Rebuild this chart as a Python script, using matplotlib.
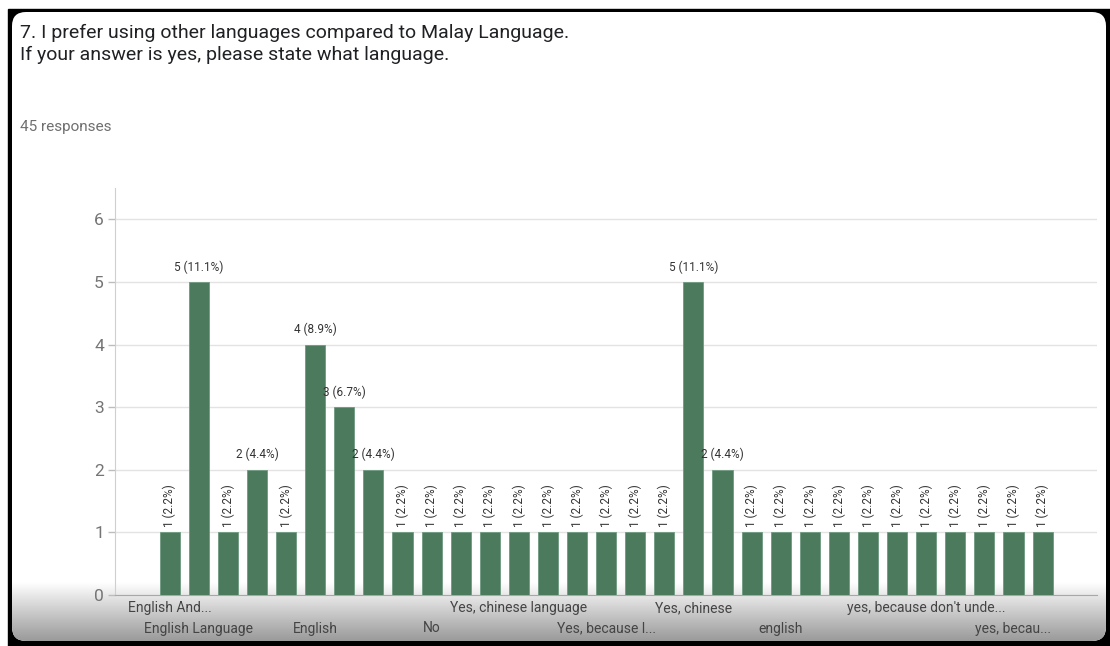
import matplotlib
matplotlib.use("Agg")
import matplotlib.pyplot as plt
import numpy as np
from matplotlib.patches import Rectangle, FancyBboxPatch

plt.rcParams['font.family'] = ['Roboto', 'DejaVu Sans']

# survey answers (only some category names are shown on the axis)
title_lines = ["7. I prefer using other languages compared to Malay Language.",
               "If your answer is yes, please state what language."]
responses = 45
counts = [1, 5, 1, 2, 1, 4, 3, 2, 1, 1, 1, 1, 1, 1, 1, 1,
          1, 1, 5, 2, 1, 1, 1, 1, 1, 1, 1, 1, 1, 1, 1]
categories = [""] * len(counts)
categories[0] = "English And..."
categories[1] = "English Language"
categories[5] = "English"
categories[9] = "No"
categories[12] = "Yes, chinese language"
categories[15] = "Yes, because l..."
categories[18] = "Yes, chinese"
categories[21] = "english"
categories[26] = "yes, because don't unde..."
categories[29] = "yes, becau..."
upper_row = [0, 12, 18, 26]
lower_row = [1, 5, 9, 15, 21, 29]
yticks = [0, 1, 2, 3, 4, 5, 6]

W, H = 1110, 646
fig = plt.figure(figsize=(W / 100, H / 100), dpi=100)

# screenshot frame: black backdrop, white rounded card, shaded bottom
bg = fig.add_axes([0, 0, 1, 1])
bg.set_xlim(0, W)
bg.set_ylim(H, 0)
bg.axis("off")
bg.add_patch(Rectangle((8, 9), W - 8, H - 9, color="black", zorder=0))
card = FancyBboxPatch((12, 12), 1094, 629, boxstyle="round,pad=0,rounding_size=14",
                      fc="white", ec="none", zorder=1)
bg.add_patch(card)
grad = np.linspace(1.0, 0.68, 64) ** 1.3
shade = np.repeat(grad[:, None], 2, axis=1)
im = bg.imshow(shade, cmap="gray", vmin=0, vmax=1, aspect="auto",
               extent=(12, 1106, 641, 582), zorder=2, interpolation="bilinear")
im.set_clip_path(card)

bg.text(20, 33, title_lines[0], fontsize=14, color="#202124", va="center")
bg.text(20, 55, title_lines[1], fontsize=14, color="#202124", va="center")
bg.text(20, 127, f"{responses} responses", fontsize=11, color="#6f6f6f", va="center")

ax = fig.add_axes([115 / W, 1 - 595 / H, 982 / W, 407 / H])
ax.patch.set_alpha(0)
x = np.arange(len(counts))
ax.bar(x, counts, width=0.69, color="#4b7a5d", edgecolor="#6f9a80", linewidth=0.6, zorder=3)

for xi, v in zip(x, counts):
    label = f"{v} ({v / responses * 100:.1f}%)"
    if v == 1:
        ax.annotate(label, (xi, v), xytext=(0, 4), textcoords="offset points",
                    rotation=90, ha="center", va="bottom", fontsize=8.5, color="#333333")
    else:
        ax.annotate(label, (xi, v), xytext=(0, 6), textcoords="offset points",
                    ha="center", va="bottom", fontsize=8.5, color="#333333")

ax.set_xlim(-1.88, 31.87)
ax.set_ylim(0, 6.5)
ax.set_yticks(yticks)
ax.set_yticklabels([str(t) for t in yticks])
ax.grid(axis="y", color="#e3e3e3", linewidth=1, zorder=0)

# two staggered rows of category names, aligned on their baselines
ax.set_xticks(upper_row, [categories[i] for i in upper_row])
ax.set_xticks(lower_row, [categories[i] for i in lower_row], minor=True)
ax.tick_params(axis="x", which="major", length=0, pad=12.5, labelsize=10, labelcolor="#444444")
ax.tick_params(axis="x", which="minor", length=0, pad=27, labelsize=10, labelcolor="#444444")
for lab in ax.get_xticklabels(which="both"):
    lab.set_verticalalignment("baseline")
ax.tick_params(axis="y", length=5, width=1, color="#bdbdbd", pad=3, labelsize=12.5,
               labelcolor="#757575")

for s in ["top", "right"]:
    ax.spines[s].set_visible(False)
ax.spines["left"].set_color("#cfcfcf")
ax.spines["bottom"].set_color("#a8a8a8")

plt.savefig("out.png", dpi=100)
